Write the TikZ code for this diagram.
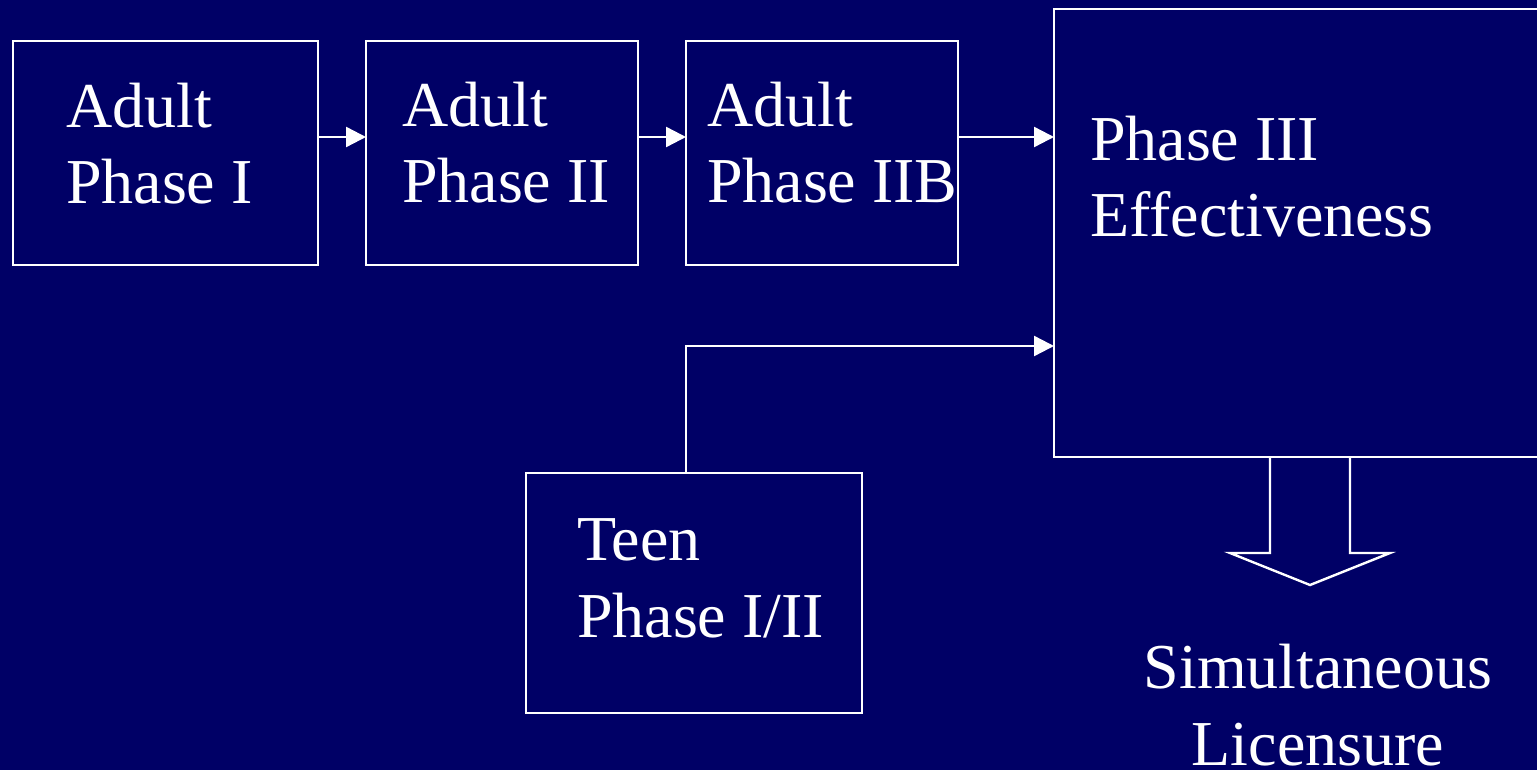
\documentclass[tikz,border=0pt]{standalone}
\usepackage{fontspec}
\setmainfont{Liberation Serif}
\usetikzlibrary{arrows.meta}
\definecolor{navy}{RGB}{0,0,102}
\tikzset{
  box/.style={draw=white, line width=1pt, rectangle, inner sep=0pt, outer sep=0pt},
  lbl/.style={text=white, inner sep=0pt, outer sep=0pt, align=left, anchor=base west,
    font=\fontsize{32pt}{38.25pt}\selectfont},
  clbl/.style={lbl, align=center, anchor=base},
  arr/.style={draw=white, line width=1.2pt, -{Triangle[length=10pt,width=10pt]}},
  blockarr/.style={draw=white, line width=1.2pt, line join=miter}
}
\begin{document}
\begin{tikzpicture}[x=0.5pt,y=-0.5pt]
\fill[navy] (0,0) rectangle (1537,770);
\useasboundingbox (0,0) rectangle (1537,770);
\clip (0,0) rectangle (1537,770);
% boxes
\node[box, minimum width=152.5pt, minimum height=112pt] (b1) at (165.5,153) {};
\node[box, minimum width=136pt, minimum height=112pt] (b2) at (502,153) {};
\node[box, minimum width=136pt, minimum height=112pt] (b3) at (822,153) {};
\node[box, minimum width=253pt, minimum height=224pt] (b4) at (1307,233) {};
\node[box, minimum width=168pt, minimum height=120pt] (teen) at (694,593) {};
% labels (anchored at the baseline of their last line)
\node[lbl] (t1) at (66,204) {Adult\\Phase I};
\node[lbl] (t2) at (402,203) {Adult\\Phase II};
\node[lbl] (t3) at (707,203) {Adult\\Phase IIB};
\node[lbl] (t4) at (1090,237) {Phase III\\Effectiveness};
\node[lbl] (t5) at (577,637) {Teen\\Phase I/II};
\node[clbl] (t6) at (1318,765) {Simultaneous\\Licensure};
% connectors
\coordinate (r1) at (0,137);
\coordinate (r2) at (0,346);
\coordinate (tx) at (686,0);
\draw[arr] (b1.east |- r1) -- (b2.west |- r1);
\draw[arr] (b2.east |- r1) -- (b3.west |- r1);
\draw[arr] (b3.east |- r1) -- (b4.west |- r1);
\draw[arr] (tx |- teen.north) |- (b4.west |- r2);
% block arrow
\coordinate (al) at (1270,553);
\coordinate (ar) at (1350,553);
\coordinate (tip) at (1310,585);
\draw[blockarr] (b4.south -| al) -- (al) -- ++(-40,0) -- (tip) -- (1390,553) -- (ar) -- (b4.south -| ar);
\end{tikzpicture}
\end{document}
